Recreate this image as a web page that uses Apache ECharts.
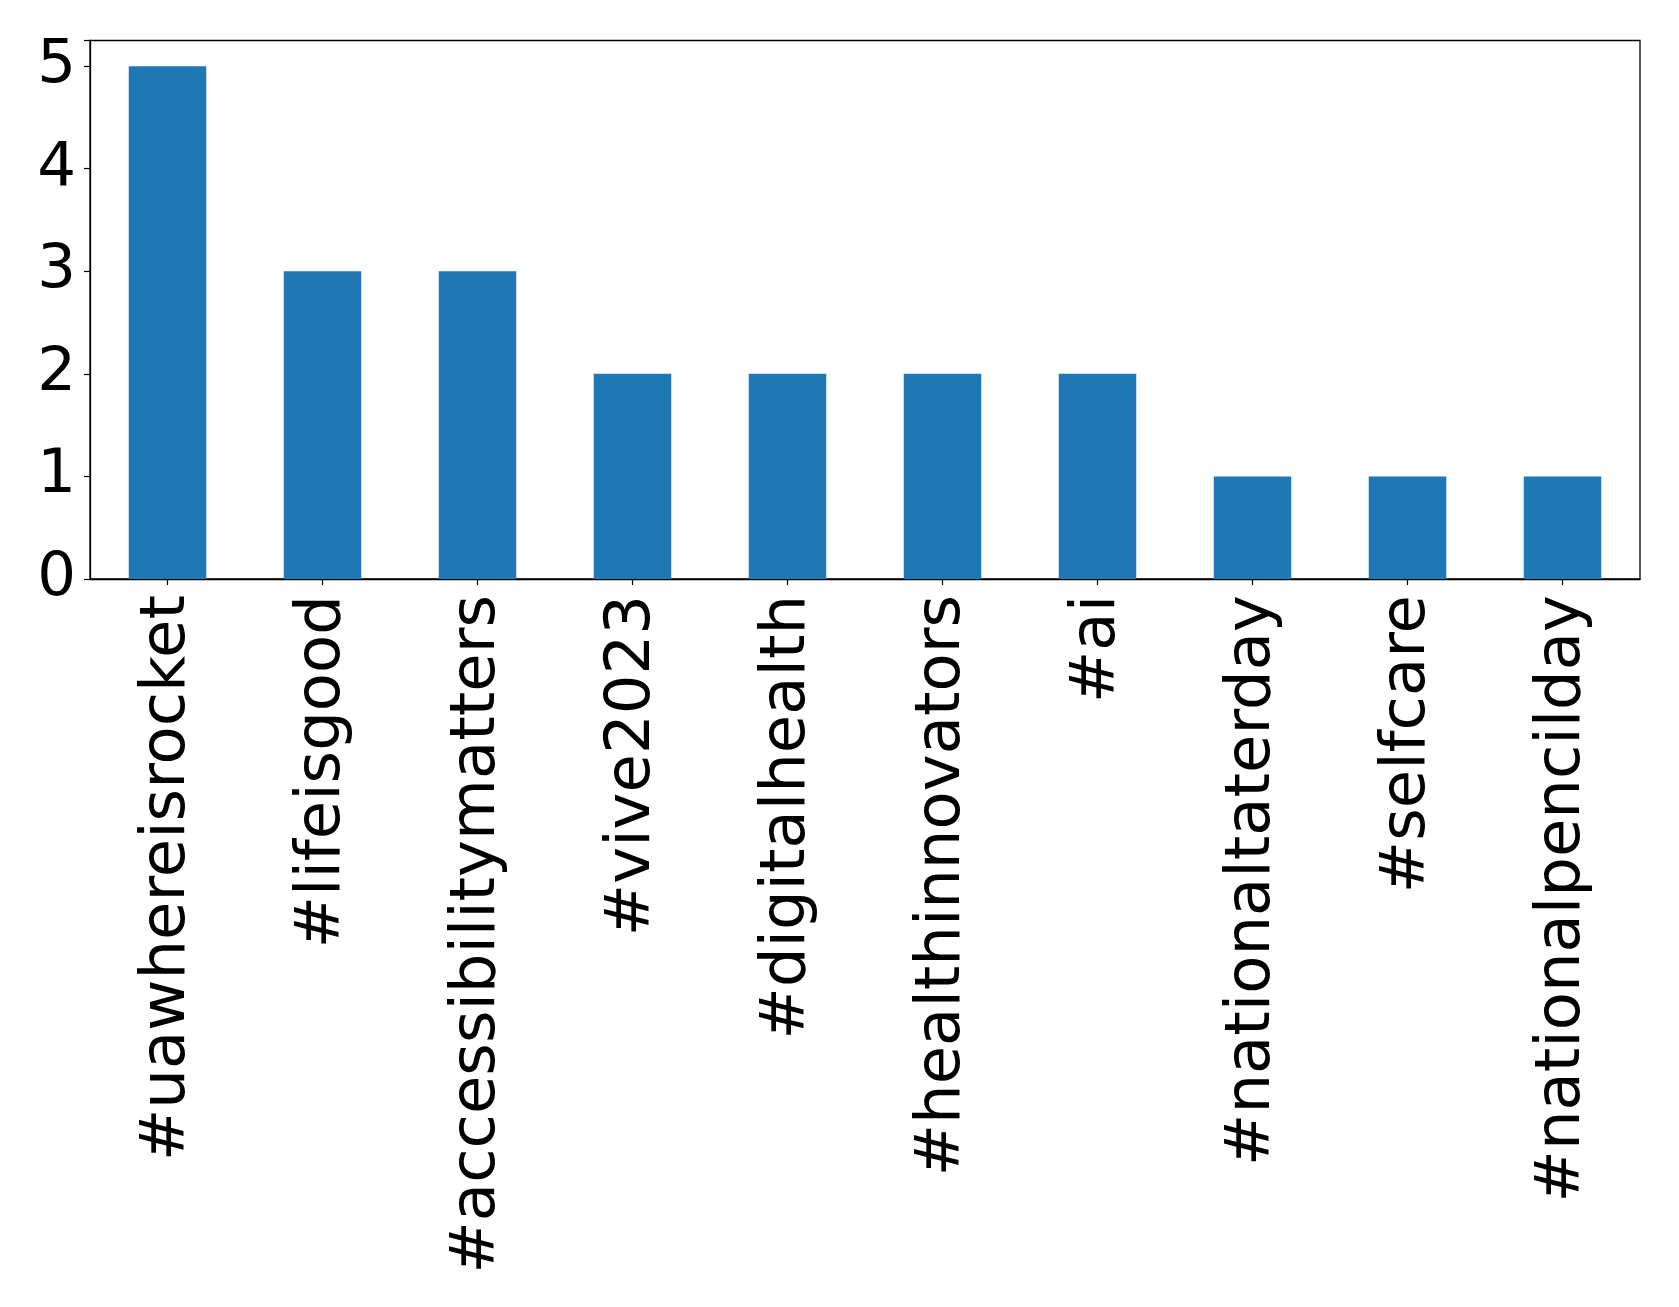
<!DOCTYPE html>
<html>
<head>
<meta charset="utf-8">
<script src="https://cdn.jsdelivr.net/npm/echarts@6/dist/echarts.min.js"></script>
<style>html,body{margin:0;padding:0;background:#fff;}#c{width:1679px;height:1307px;}</style>
</head>
<body>
<div id="c"></div>
<script>
const categories = ["#uawhereisrocket","#lifeisgood","#accessibilitymatters","#vive2023","#digitalhealth","#healthinnovators","#ai","#nationaltaterday","#selfcare","#nationalpencilday"];
const counts = [5,3,3,2,2,2,2,1,1,1];
const yMin = 0, yMax = 5.25, yStep = 1;

const chart = echarts.init(document.getElementById('c'), null, {renderer: 'canvas'});
const font = '"DejaVu Sans", sans-serif';
chart.setOption({
  animation: false,
  backgroundColor: '#ffffff',
  grid: {left: 90, right: 39, top: 40.5, bottom: 728, show: true, borderColor: '#000', borderWidth: 1.3, backgroundColor: 'transparent'},
  xAxis: {
    type: 'category', data: categories,
    axisLine: {show: true, lineStyle: {color: '#000', width: 1.3}},
    axisTick: {show: true, alignWithLabel: true, length: 6, lineStyle: {color: '#000', width: 1.2}},
    axisLabel: {rotate: 90, interval: 0, margin: 16, padding: [9, 0, 0, 0], color: '#000', fontSize: 62.5, fontFamily: font}
  },
  yAxis: {
    type: 'value', min: yMin, max: yMax, interval: yStep,
    splitLine: {show: false},
    axisLine: {show: true, lineStyle: {color: '#000', width: 1.3}},
    axisTick: {show: true, length: 6, lineStyle: {color: '#000', width: 1.2}},
    axisLabel: {margin: 14, color: '#000', fontSize: 61, fontFamily: font,
      formatter: v => (Number.isInteger(v) ? String(v) : '')}
  },
  series: [{type: 'bar', data: counts, barWidth: '50%', itemStyle: {color: '#1f77b4'}}]
});
</script>
</body>
</html>
